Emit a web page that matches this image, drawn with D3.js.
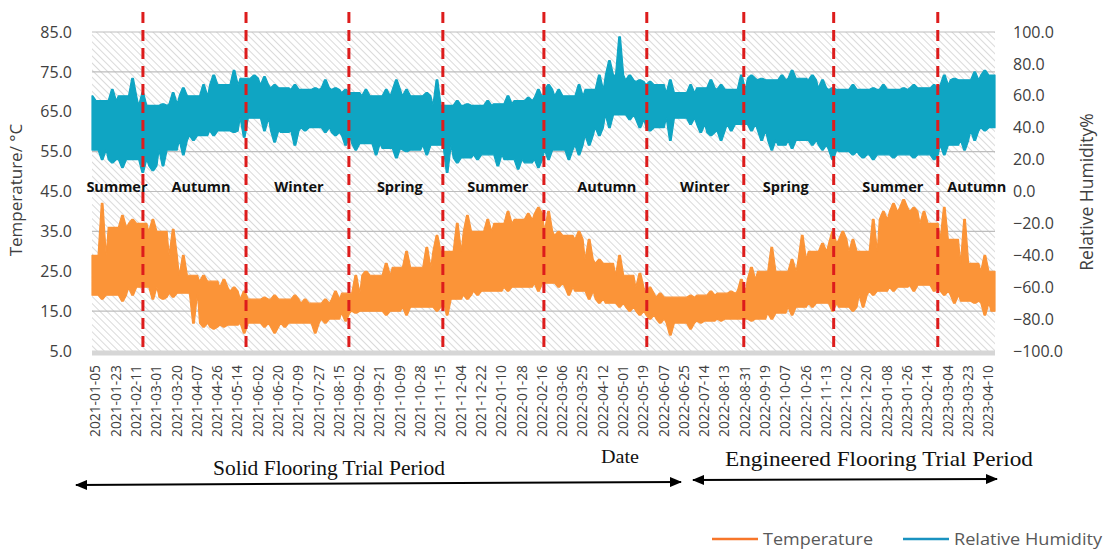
<!DOCTYPE html>
<html>
<head>
<meta charset="utf-8">
<script src="https://cdn.jsdelivr.net/npm/d3@7"></script>
<style>
  body { margin: 0; background: #fff; }
  svg { display: block; font-family: "Open Sans", sans-serif; }
</style>
</head>
<body>
<div id="chart"></div>
<script>
// date labels on the category axis (evenly spaced)
const dateLabels = [
  "2021-01-05","2021-01-23","2021-02-11","2021-03-01","2021-03-20","2021-04-07","2021-04-26",
  "2021-05-14","2021-06-02","2021-06-20","2021-07-09","2021-07-27","2021-08-15","2021-09-02",
  "2021-09-21","2021-10-09","2021-10-28","2021-11-15","2021-12-04","2021-12-22","2022-01-10",
  "2022-01-28","2022-02-16","2022-03-06","2022-03-25","2022-04-12","2022-05-01","2022-05-19",
  "2022-06-07","2022-06-25","2022-07-14","2022-08-13","2022-08-31","2022-09-19","2022-10-07",
  "2022-10-26","2022-11-13","2022-12-02","2022-12-20","2023-01-08","2023-01-26","2023-02-14",
  "2023-03-04","2023-03-23","2023-04-10"
];

// temperature (°C), high / low envelope read every half label step
const tempHigh = [29,42,36,39,38,37,38,35,35.5,29,24,24,22.5,23,21,20,18,18.5,19,18,
  19,18,17,18,20,19.5,24,25,24,27,26,30,26,31,34,30,37,39,35,38,
  37,40,38,39.5,41,40,35,34,35,33,28,27,29,24,24.5,21,19.5,18.5,18.5,19,
  19,20,19.5,20,23,26,25,31,25,28,34,30,32,35,35,33,30,38,40,42,
  43,41,40,37,41,33,38,27,29,25];
const tempLow = [19,18,19,17.5,19,21,18,18,18.5,19.5,12,11,10.5,11,11.5,9.5,12,11,9.5,11,
  12,12,9.5,12,13,12.5,14.5,15,15,14,15,14,16,16,15,14,18,18,19,20,
  20,20,21,21,20,22,21,19,20,18,17,17,16,15,14,13,12,9,12,10.5,
  12,12.5,12.5,13,13,12.5,13,13,14.5,14,16,16,17,15,16,15,16,19,20,20,
  21,20,21.5,20,19,17,17.5,17,14,15];

// relative humidity (%), high / low envelope
const rhHigh = [60,57,64,60,71,62,54,55,62,65,60,67,73,67,76,71,73,72,67,65,
  67,64,65,70,65,64,62,64,60,64,70,64,60,62,70,54,57,55,54,57,
  55,60,57,59,64,67,64,60,67,64,73,82,97,73,70,69,67,70,62,67,
  65,70,67,64,73,73,71,70,73,76,71,73,70,65,64,67,64,65,67,64,
  65,67,65,67,73,71,70,75,76,73];
const rhLow = [26,20,18,15,20,12,13,16,26,23,32,35,35,38,37,34,46,38,31,37,
  29,38,40,37,35,29,26,30,23,27,21,25,26,23,29,12,18,21,20,23,
  16,20,14,18,15,20,26,20,23,29,35,40,48,45,40,38,40,32,46,42,
  37,35,32,38,42,38,32,26,29,27,32,29,26,20,25,23,21,20,23,21,
  23,21,23,20,23,29,26,32,38,40];

// season dividers and labels, in label-index units
const seasonBreaks = [2.36, 7.44, 12.51, 17.14, 22.12, 27.19, 31.97, 36.4, 41.53];
const seasonNames = ["Summer","Autumn","Winter","Spring","Summer","Autumn","Winter","Spring","Summer","Autumn"];
const seasonCenters = [1.08, 5.22, 10.05, 15.02, 19.85, 25.22, 30.05, 34.04, 39.31, 43.45];

const tempTicks = [5, 15, 25, 35, 45, 55, 65, 75, 85];
const rhTicks = [-100, -80, -60, -40, -20, 0, 20, 40, 60, 80, 100];

const width = 1114, height = 550;
const plotL = 92, plotR = 995, plotT = 32, plotB = 351;

const svg = d3.select("#chart").append("svg")
  .attr("width", width)
  .attr("height", height);

const x = d3.scaleLinear().domain([-0.15, 44.35]).range([plotL, plotR]);
const yT = d3.scaleLinear().domain([5, 85]).range([plotB, plotT]);
const yRH = d3.scaleLinear().domain([-100, 100]).range([plotB, plotT]);
const sampleX = i => -0.15 + i * 0.5;

// turn a high/low envelope into a spiky band: the body follows the
// neighbouring extremes and each sample pokes out as a narrow spike
function spikyBand(hi, lo) {
  const n = hi.length, pts = [];
  for (let i = 0; i < n; i++) {
    const a = Math.max(0, i - 1), b = Math.min(n - 1, i + 1);
    const bodyTop = Math.min(hi[a], hi[i], hi[b]);
    const bodyBot = Math.max(lo[a], lo[i], lo[b]);
    const t = sampleX(i);
    pts.push({ t: t - 0.2, top: bodyTop, bot: bodyBot });
    pts.push({ t: t - 0.04, top: hi[i], bot: lo[i] });
    pts.push({ t: t + 0.04, top: hi[i], bot: lo[i] });
    pts.push({ t: t + 0.2, top: bodyTop, bot: bodyBot });
  }
  pts[0].t = sampleX(0); pts[1].t = sampleX(0);
  pts[pts.length - 1].t = sampleX(n - 1); pts[pts.length - 2].t = sampleX(n - 1);
  return pts;
}

// hatched plot background
const defs = svg.append("defs");
defs.append("pattern")
    .attr("id", "hatch")
    .attr("patternUnits", "userSpaceOnUse")
    .attr("width", 5)
    .attr("height", 5)
    .attr("patternTransform", "rotate(-45)")
  .append("line")
    .attr("x1", 0).attr("y1", 0).attr("x2", 0).attr("y2", 5)
    .attr("stroke", "#c6c6c6")
    .attr("stroke-width", 1.3);

svg.append("rect")
  .attr("x", plotL).attr("y", plotT)
  .attr("width", plotR - plotL).attr("height", plotB - plotT)
  .attr("fill", "#fff");
svg.append("rect")
  .attr("x", plotL).attr("y", plotT)
  .attr("width", plotR - plotL).attr("height", plotB - plotT)
  .attr("fill", "url(#hatch)");

// horizontal gridlines
svg.append("g")
  .selectAll("line")
  .data(tempTicks.slice(1))
  .join("line")
    .attr("x1", plotL).attr("x2", plotR)
    .attr("y1", d => yT(d)).attr("y2", d => yT(d))
    .attr("stroke", "#bdbdbd")
    .attr("stroke-width", 1.2);

// series
const rhArea = d3.area()
  .x(d => x(d.t))
  .y0(d => yRH(d.bot))
  .y1(d => yRH(d.top));
svg.append("path")
  .datum(spikyBand(rhHigh, rhLow))
  .attr("d", rhArea)
  .attr("fill", "#0fa5c3")
  .attr("stroke", "#0fa5c3")
  .attr("stroke-width", 1.2)
  .attr("stroke-linejoin", "round");

const tArea = d3.area()
  .x(d => x(d.t))
  .y0(d => yT(d.bot))
  .y1(d => yT(d.top));
svg.append("path")
  .datum(spikyBand(tempHigh, tempLow))
  .attr("d", tArea)
  .attr("fill", "#fb9438")
  .attr("stroke", "#fb9438")
  .attr("stroke-width", 1.2)
  .attr("stroke-linejoin", "round");

// bottom axis line
svg.append("line")
  .attr("x1", plotL).attr("x2", plotR)
  .attr("y1", plotB + 2).attr("y2", plotB + 2)
  .attr("stroke", "#d6d6d6")
  .attr("stroke-width", 5);

// left axis
const gL = svg.append("g")
  .attr("transform", `translate(${plotL},0)`)
  .call(d3.axisLeft(yT).tickValues(tempTicks).tickFormat(d3.format(".1f")).tickSize(0).tickPadding(20));
gL.select(".domain").remove();
gL.selectAll("text").attr("font-size", 16).attr("fill", "#404040").attr("font-family", "Open Sans");

// right axis
const gR = svg.append("g")
  .attr("transform", `translate(${plotR},0)`)
  .call(d3.axisRight(yRH).tickValues(rhTicks).tickFormat(d3.format(".1f")).tickSize(0).tickPadding(18));
gR.select(".domain").remove();
gR.selectAll("text").attr("font-size", 16).attr("fill", "#404040").attr("font-family", "Open Sans");

// bottom axis, rotated date labels
const gB = svg.append("g")
  .attr("transform", `translate(0,${plotB})`)
  .call(d3.axisBottom(x).tickValues(d3.range(dateLabels.length)).tickFormat(i => dateLabels[i]).tickSize(0));
gB.select(".domain").remove();
gB.selectAll("text")
  .attr("transform", "rotate(-90)")
  .attr("text-anchor", "end")
  .attr("x", -14)
  .attr("y", 0)
  .attr("dy", "0.35em")
  .attr("font-size", 13.8)
  .attr("fill", "#404040")
  .attr("font-family", "Open Sans");

// axis titles
svg.append("text")
  .attr("transform", "translate(22,190) rotate(-90)")
  .attr("text-anchor", "middle")
  .attr("font-size", 17)
  .attr("fill", "#404040")
  .text("Temperature/ °C");
svg.append("text")
  .attr("transform", "translate(1093,192) rotate(-90)")
  .attr("text-anchor", "middle")
  .attr("font-size", 17.5)
  .attr("fill", "#404040")
  .text("Relative Humidity%");

// season labels
svg.append("g")
  .selectAll("text")
  .data(seasonNames)
  .join("text")
    .attr("x", (d, i) => x(seasonCenters[i]))
    .attr("y", 192)
    .attr("text-anchor", "middle")
    .attr("font-size", 14.5)
    .attr("font-weight", "bold")
    .attr("fill", "#111")
    .text(d => d);

// red dashed season dividers
svg.append("g")
  .selectAll("line")
  .data(seasonBreaks)
  .join("line")
    .attr("x1", d => x(d)).attr("x2", d => x(d))
    .attr("y1", 12).attr("y2", plotB + 2)
    .attr("stroke", "#dd1c1c")
    .attr("stroke-width", 3)
    .attr("stroke-dasharray", "11,7");

// trial period annotations
defs.append("marker")
    .attr("id", "arrow")
    .attr("viewBox", "0 0 12 10")
    .attr("refX", 11).attr("refY", 5)
    .attr("markerWidth", 12).attr("markerHeight", 10)
    .attr("markerUnits", "userSpaceOnUse")
    .attr("orient", "auto-start-reverse")
  .append("path")
    .attr("d", "M0,0 L12,5 L0,10 Z")
    .attr("fill", "#000");

svg.append("line")
  .attr("x1", 76).attr("y1", 485).attr("x2", 681).attr("y2", 482)
  .attr("stroke", "#000").attr("stroke-width", 2)
  .attr("marker-start", "url(#arrow)").attr("marker-end", "url(#arrow)");
svg.append("line")
  .attr("x1", 693).attr("y1", 480).attr("x2", 997).attr("y2", 479)
  .attr("stroke", "#000").attr("stroke-width", 2)
  .attr("marker-start", "url(#arrow)").attr("marker-end", "url(#arrow)");

const serif = "Liberation Serif, DejaVu Serif, serif";
const notes = [
  { text: "Solid Flooring Trial Period", x: 329, y: 475, size: 21, len: 232 },
  { text: "Engineered Flooring Trial Period", x: 879, y: 466, size: 21, len: 308 },
  { text: "Date", x: 620, y: 463, size: 19, len: 38 }
];
svg.append("g").selectAll("text").data(notes).join("text")
  .attr("x", d => d.x - d.len / 2).attr("y", d => d.y)
  .attr("font-family", serif).attr("font-size", d => d.size)
  .attr("textLength", d => d.len)
  .attr("lengthAdjust", "spacingAndGlyphs")
  .attr("fill", "#111")
  .text(d => d.text);

// legend
const legend = [
  { name: "Temperature", color: "#f7762a", x: 712, len: 110 },
  { name: "Relative Humidity", color: "#1992c0", x: 903, len: 148 }
];
const lg = svg.append("g").selectAll("g").data(legend).join("g")
  .attr("transform", d => `translate(${d.x},539)`);
lg.append("line")
  .attr("x1", 0).attr("x2", 46)
  .attr("stroke", d => d.color).attr("stroke-width", 2.5);
lg.append("text")
  .attr("x", 51).attr("dy", "0.35em")
  .attr("font-size", 17)
  .attr("textLength", d => d.len)
  .attr("lengthAdjust", "spacingAndGlyphs")
  .attr("fill", "#595959")
  .text(d => d.name);
</script>
</body>
</html>
